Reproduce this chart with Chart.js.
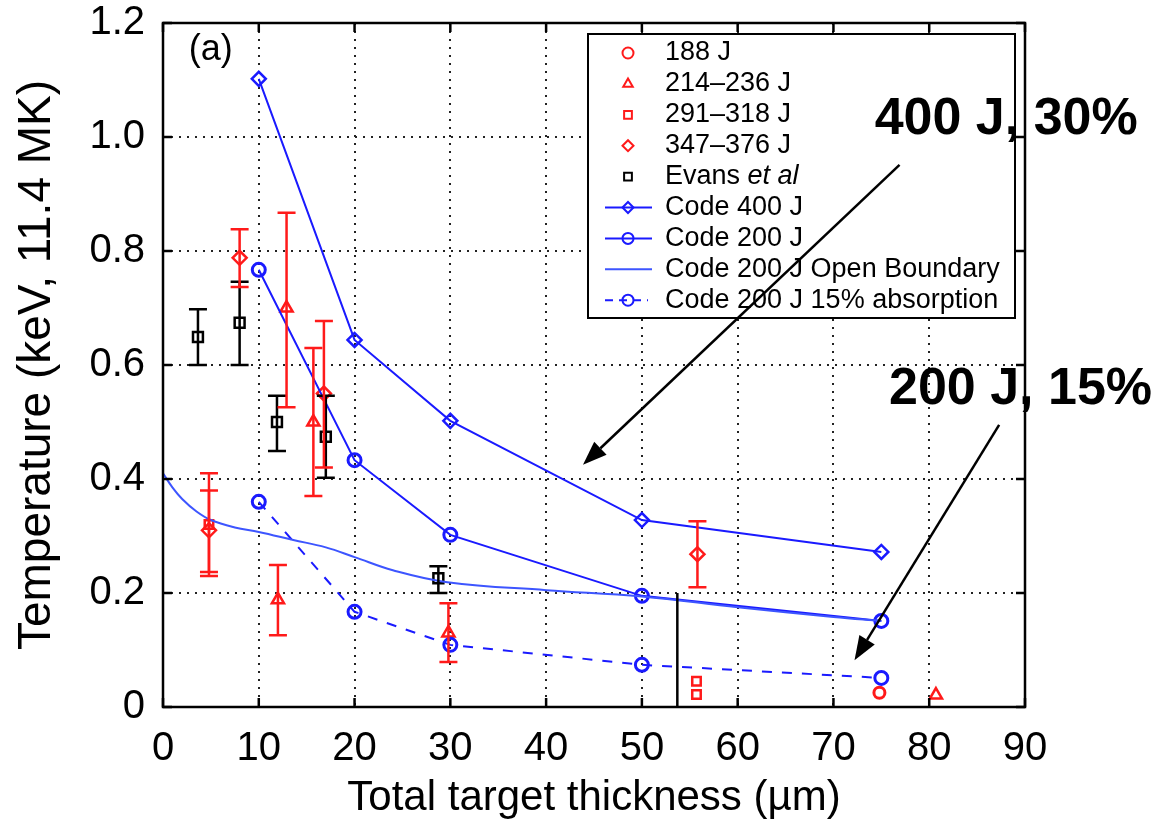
<!DOCTYPE html>
<html>
<head>
<meta charset="utf-8">
<script src="https://cdn.jsdelivr.net/npm/chart.js@4.4.1/dist/chart.umd.min.js"></script>
<style>
html, body { margin: 0; padding: 0; background: #fff; }
</style>
</head>
<body>
<canvas id="chart" width="1163" height="821"></canvas>
<script>
// ---- data ----
var codeX = [10, 20, 30, 50, 75];
var code400 = [1.102, 0.644, 0.502, 0.328, 0.272];
var code200 = [0.767, 0.433, 0.302, 0.195, 0.151];
var code200abs = [0.36, 0.167, 0.109, 0.074, 0.051];

var openX = [0, 1, 2, 3.5, 5, 7.5, 10, 13.6, 17, 20, 24, 29.7, 40, 50, 60, 70, 75];
var openY = [0.41, 0.385, 0.365, 0.343, 0.328, 0.315, 0.307, 0.293, 0.28, 0.263, 0.24, 0.219, 0.205, 0.194, 0.175, 0.158, 0.151];

var j188X = [74.8];
var j188Y = [0.025];

var j214X = [12.9, 15.7, 12, 29.8, 80.7];
var j214Y = [0.70, 0.50, 0.188, 0.13, 0.021];
var j214Lo = [0.526, 0.37, 0.126, 0.079, null];
var j214Hi = [0.867, 0.63, 0.249, 0.182, null];

var j291X = [4.8, 55.7, 55.7];
var j291Y = [0.32, 0.045, 0.022];
var j291Lo = [0.237, null, null];
var j291Hi = [0.38, null, null];

var j347X = [8, 16.8, 4.8, 55.8];
var j347Y = [0.788, 0.55, 0.31, 0.268];
var j347Lo = [0.737, 0.42, 0.23, 0.21];
var j347Hi = [0.838, 0.677, 0.41, 0.326];

var evansX = [3.65, 8.0, 11.9, 17.0, 28.75];
var evansY = [0.649, 0.674, 0.5, 0.474, 0.226];
var evansLo = [0.6, 0.6, 0.449, 0.402, 0.2];
var evansHi = [0.698, 0.746, 0.546, 0.546, 0.247];

var barX = [53.7];
var barLo = [0];
var barHi = [0.2];

var xTicks = [0, 10, 20, 30, 40, 50, 60, 70, 80, 90];
var yTicks = [0, 0.2, 0.4, 0.6, 0.8, 1.0, 1.2];

// annotation arrows (data units) and labels
var arrowFromX = [76.9, 87.3];
var arrowFromY = [0.951, 0.495];
var arrowToX = [43.85, 72.2];
var arrowToY = [0.425, 0.082];
var noteText = ['400 J, 30%', '200 J, 15%'];
var noteX = [74.3, 75.8];
var noteY = [1.03, 0.556];

var FONT = '"Liberation Sans", Arial, sans-serif';
var RED = '#ff1a1a';
var BLUE = '#1a1aff';

function pts(xs, ys) {
    return xs.map(function (x, i) { return { x: x, y: ys[i] }; });
}

var datasets = [
    {
        label: 'Code 200 J Open Boundary', data: pts(openX, openY), showLine: true,
        borderColor: '#3d55ff', borderWidth: 2, pointRadius: 0, tension: 0.4
    },
    {
        label: 'Code 400 J', data: pts(codeX, code400), showLine: true,
        borderColor: BLUE, borderWidth: 2, pointStyle: 'rectRot', pointRadius: 7,
        pointBorderColor: BLUE, pointBackgroundColor: 'rgba(0,0,0,0)', pointBorderWidth: 2.5
    },
    {
        label: 'Code 200 J', data: pts(codeX, code200), showLine: true,
        borderColor: BLUE, borderWidth: 2, pointStyle: 'circle', pointRadius: 6.5,
        pointBorderColor: BLUE, pointBackgroundColor: 'rgba(0,0,0,0)', pointBorderWidth: 3
    },
    {
        label: 'Code 200 J 15% absorption', data: pts(codeX, code200abs), showLine: true,
        borderColor: BLUE, borderWidth: 2, borderDash: [10, 10], pointStyle: 'circle', pointRadius: 6.5,
        pointBorderColor: BLUE, pointBackgroundColor: 'rgba(0,0,0,0)', pointBorderWidth: 3
    },
    {
        label: 'Evans et al', data: pts(evansX, evansY), errLo: evansLo, errHi: evansHi,
        borderColor: '#000', pointStyle: 'rect', pointRadius: 7, pointBorderWidth: 2.5,
        pointBackgroundColor: 'rgba(0,0,0,0)'
    },
    {
        label: 'bar', data: pts(barX, barHi), errLo: barLo, errHi: barHi, noCaps: true,
        borderColor: '#000', pointRadius: 0
    },
    {
        label: '188 J', data: pts(j188X, j188Y),
        borderColor: RED, pointStyle: 'circle', pointRadius: 5.5, pointBorderWidth: 3,
        pointBackgroundColor: 'rgba(0,0,0,0)'
    },
    {
        label: '214–236 J', data: pts(j214X, j214Y), errLo: j214Lo, errHi: j214Hi,
        borderColor: RED, pointStyle: 'triangle', pointRadius: 7, pointBorderWidth: 2.5,
        pointBackgroundColor: 'rgba(0,0,0,0)'
    },
    {
        label: '291–318 J', data: pts(j291X, j291Y), errLo: j291Lo, errHi: j291Hi,
        borderColor: RED, pointStyle: 'rect', pointRadius: 6, pointBorderWidth: 2.5,
        pointBackgroundColor: 'rgba(0,0,0,0)'
    },
    {
        label: '347–376 J', data: pts(j347X, j347Y), errLo: j347Lo, errHi: j347Hi,
        borderColor: RED, pointStyle: 'rectRot', pointRadius: 7, pointBorderWidth: 2.5,
        pointBackgroundColor: 'rgba(0,0,0,0)'
    }
];
datasets.forEach(function (d) { if (!d.pointBorderColor) d.pointBorderColor = d.borderColor; });

var legendOrder = ['188 J', '214–236 J', '291–318 J', '347–376 J', 'Evans et al',
    'Code 400 J', 'Code 200 J', 'Code 200 J Open Boundary', 'Code 200 J 15% absorption'];

// error bars
var errorBarPlugin = {
    id: 'errorBars',
    afterDatasetsDraw: function (chart) {
        var ctx = chart.ctx, xs = chart.scales.x, ys = chart.scales.y;
        chart.data.datasets.forEach(function (ds) {
            if (!ds.errLo) return;
            ctx.save();
            ctx.strokeStyle = ds.borderColor;
            ctx.lineWidth = 2.5;
            ds.data.forEach(function (p, j) {
                if (ds.errLo[j] == null) return;
                var px = xs.getPixelForValue(p.x);
                var lo = ys.getPixelForValue(ds.errLo[j]);
                var hi = ys.getPixelForValue(ds.errHi[j]);
                ctx.beginPath();
                ctx.moveTo(px, lo); ctx.lineTo(px, hi);
                if (!ds.noCaps) {
                    ctx.moveTo(px - 9, lo); ctx.lineTo(px + 9, lo);
                    ctx.moveTo(px - 9, hi); ctx.lineTo(px + 9, hi);
                }
                ctx.stroke();
            });
            ctx.restore();
        });
    }
};

// frame, inward ticks, legend box, arrows, labels
var decorPlugin = {
    id: 'decor',
    afterDraw: function (chart) {
        var ctx = chart.ctx, a = chart.chartArea;
        var xs = chart.scales.x, ys = chart.scales.y;
        ctx.save();
        ctx.strokeStyle = '#000';
        ctx.lineWidth = 2.5;
        ctx.strokeRect(a.left, a.top, a.right - a.left, a.bottom - a.top);
        ctx.beginPath();
        xTicks.forEach(function (v) {
            var px = xs.getPixelForValue(v);
            ctx.moveTo(px, a.bottom); ctx.lineTo(px, a.bottom - 9);
            ctx.moveTo(px, a.top); ctx.lineTo(px, a.top + 9);
        });
        yTicks.forEach(function (v) {
            var py = ys.getPixelForValue(v);
            ctx.moveTo(a.left, py); ctx.lineTo(a.left + 9, py);
            ctx.moveTo(a.right, py); ctx.lineTo(a.right - 9, py);
        });
        ctx.stroke();

        // legend
        var lx = a.left + 425, ly = a.top + 11, lw = 427, lh = 284;
        ctx.fillStyle = '#fff';
        ctx.fillRect(lx, ly, lw, lh);
        ctx.lineWidth = 2;
        ctx.strokeRect(lx, ly, lw, lh);
        ctx.textBaseline = 'middle';
        ctx.textAlign = 'left';
        legendOrder.forEach(function (name, k) {
            var ds = chart.data.datasets.filter(function (d) { return d.label === name; })[0];
            var cy = ly + 19 + k * 30.9;
            var cx = lx + 40;
            if (ds.showLine) {
                ctx.save();
                ctx.strokeStyle = ds.borderColor;
                ctx.lineWidth = 2;
                ctx.setLineDash(ds.borderDash ? [8, 6] : []);
                ctx.beginPath();
                ctx.moveTo(lx + 17, cy); ctx.lineTo(ds.borderDash ? cx + 20 : lx + 64, cy);
                ctx.stroke();
                ctx.restore();
            }
            if (ds.pointRadius > 0) {
                ctx.save();
                ctx.strokeStyle = ds.pointBorderColor;
                ctx.fillStyle = 'rgba(0,0,0,0)';
                Chart.helpers.drawPoint(ctx, {
                    pointStyle: ds.pointStyle, radius: 5.5,
                    rotation: 0, borderWidth: 2.5
                }, cx, cy);
                ctx.restore();
            }
            ctx.fillStyle = '#000';
            var tx = lx + 77;
            if (name === 'Evans et al') {
                ctx.font = '27px ' + FONT;
                ctx.fillText('Evans ', tx, cy);
                var w = ctx.measureText('Evans ').width;
                ctx.font = 'italic 27px ' + FONT;
                ctx.fillText('et al', tx + w, cy);
            } else {
                ctx.font = '27px ' + FONT;
                ctx.fillText(name, tx, cy);
            }
        });

        // (a)
        ctx.fillStyle = '#000';
        ctx.font = '36px ' + FONT;
        ctx.textAlign = 'left';
        ctx.fillText('(a)', xs.getPixelForValue(2.7), ys.getPixelForValue(1.153));

        // arrows
        ctx.strokeStyle = '#000';
        ctx.fillStyle = '#000';
        ctx.lineWidth = 2.5;
        arrowFromX.forEach(function (fx, i) {
            var x0 = xs.getPixelForValue(fx), y0 = ys.getPixelForValue(arrowFromY[i]);
            var x1 = xs.getPixelForValue(arrowToX[i]), y1 = ys.getPixelForValue(arrowToY[i]);
            var ang = Math.atan2(y1 - y0, x1 - x0);
            var hl = 24, hw = 9;
            var bx = x1 - hl * Math.cos(ang), by = y1 - hl * Math.sin(ang);
            ctx.beginPath();
            ctx.moveTo(x0, y0); ctx.lineTo(bx, by);
            ctx.stroke();
            ctx.beginPath();
            ctx.moveTo(x1, y1);
            ctx.lineTo(bx + hw * Math.sin(ang), by - hw * Math.cos(ang));
            ctx.lineTo(bx - hw * Math.sin(ang), by + hw * Math.cos(ang));
            ctx.closePath();
            ctx.fill();
        });

        ctx.font = 'bold 52px ' + FONT;
        ctx.textBaseline = 'middle';
        noteText.forEach(function (t, i) {
            ctx.fillText(t, xs.getPixelForValue(noteX[i]), ys.getPixelForValue(noteY[i]));
        });
        ctx.restore();
    }
};

var gridStyle = {
    color: '#222',
    lineWidth: 2,
    drawTicks: false
};

new Chart(document.getElementById('chart').getContext('2d'), {
    type: 'scatter',
    data: { datasets: datasets },
    options: {
        responsive: false,
        animation: false,
        layout: { padding: { top: 23, right: 138, left: 0, bottom: 0 } },
        plugins: { legend: { display: false }, tooltip: { enabled: false } },
        scales: {
            x: {
                type: 'linear', min: 0, max: 90,
                afterBuildTicks: function (axis) { axis.ticks = xTicks.map(function (v) { return { value: v }; }); },
                afterFit: function (axis) { axis.height = 114; axis.paddingLeft = 0; axis.paddingRight = 0; },
                grid: gridStyle,
                border: { display: false, dash: [2, 6] },
                ticks: { color: '#000', font: { family: FONT, size: 40 }, padding: 18, maxRotation: 0 },
                title: {
                    display: true, text: 'Total target thickness (µm)', color: '#000',
                    font: { family: FONT, size: 42, lineHeight: 1 }, padding: { top: 0, bottom: 2 }
                }
            },
            y: {
                type: 'linear', min: 0, max: 1.2,
                afterBuildTicks: function (axis) { axis.ticks = yTicks.map(function (v) { return { value: v }; }); },
                afterFit: function (axis) { axis.width = 163; axis.paddingTop = 0; axis.paddingBottom = 0; },
                grid: gridStyle,
                border: { display: false, dash: [2, 6] },
                ticks: {
                    color: '#000', font: { family: FONT, size: 40 }, padding: 18,
                    callback: function (v) { return v === 0 ? '0' : v.toFixed(1); }
                },
                title: {
                    display: true, text: 'Temperature (keV, 11.4 MK)', color: '#000',
                    font: { family: FONT, size: 46, lineHeight: 1 }, padding: { top: 14, bottom: 0 }
                }
            }
        }
    },
    plugins: [errorBarPlugin, decorPlugin]
});
</script>
</body>
</html>
